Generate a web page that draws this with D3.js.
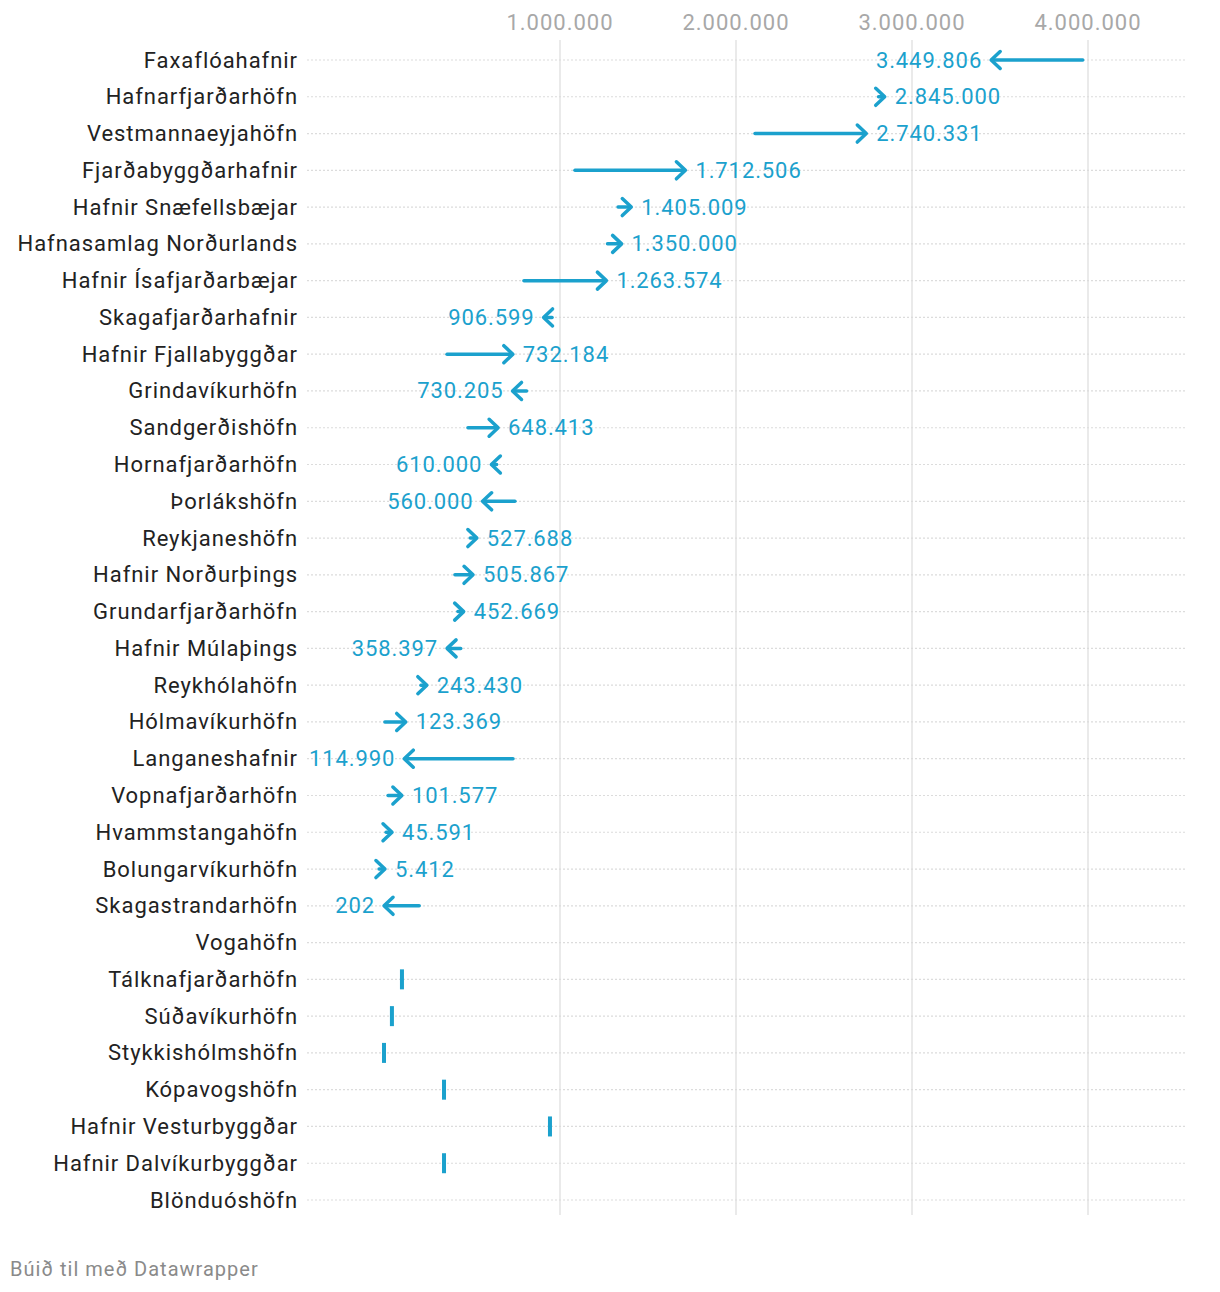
<!DOCTYPE html>
<html>
<head>
<meta charset="utf-8">
<script src="https://cdn.jsdelivr.net/npm/d3@7"></script>
<style>
  body { margin: 0; background: #fff; }
  text { font-family: Roboto, "Noto Sans", sans-serif; }
</style>
</head>
<body>
<svg id="chart" width="1220" height="1292"></svg>
<script>
const categories = ["Faxaflóahafnir","Hafnarfjarðarhöfn","Vestmannaeyjahöfn","Fjarðabyggðarhafnir","Hafnir Snæfellsbæjar","Hafnasamlag Norðurlands","Hafnir Ísafjarðarbæjar","Skagafjarðarhafnir","Hafnir Fjallabyggðar","Grindavíkurhöfn","Sandgerðishöfn","Hornafjarðarhöfn","Þorlákshöfn","Reykjaneshöfn","Hafnir Norðurþings","Grundarfjarðarhöfn","Hafnir Múlaþings","Reykhólahöfn","Hólmavíkurhöfn","Langaneshafnir","Vopnafjarðarhöfn","Hvammstangahöfn","Bolungarvíkurhöfn","Skagastrandarhöfn","Vogahöfn","Tálknafjarðarhöfn","Súðavíkurhöfn","Stykkishólmshöfn","Kópavogshöfn","Hafnir Vesturbyggðar","Hafnir Dalvíkurbyggðar","Blönduóshöfn"];
const startValues = [3970000,2810000,2108000,1085000,1330000,1270000,795000,955000,358000,810000,477000,640000,744000,490000,403000,420000,436000,210000,5000,733000,23000,12000,-28000,200000,null,102000,45000,0,341000,943000,341000,null];
const endValues   = [3449806,2845000,2740331,1712506,1405009,1350000,1263574,906599,732184,730205,648413,610000,560000,527688,505867,452669,358397,243430,123369,114990,101577,45591,5412,202,null,102000,45000,0,341000,943000,341000,null];
const tickValues = [1000000,2000000,3000000,4000000];

const blue = "#1ba1cd";
const svg = d3.select("#chart");
const fmt = d3.formatLocale({decimal: ",", thousands: ".", grouping: [3], currency: ["", ""]}).format(",d");

const x = d3.scaleLinear().domain([0, 4000000]).range([384, 1088]);
const y = d3.scalePoint().domain(categories).range([60, 1200]);

const rowX0 = 307, rowX1 = 1186;

// vertical gridlines
svg.append("g").selectAll("line").data(tickValues).join("line")
  .attr("x1", d => x(d)).attr("x2", d => x(d))
  .attr("y1", 40).attr("y2", 1215)
  .attr("stroke", "#e3e3e3").attr("stroke-width", 1.5);

// tick labels
svg.append("g").selectAll("text").data(tickValues).join("text")
  .attr("x", d => x(d)).attr("y", 22)
  .attr("text-anchor", "middle").attr("dominant-baseline", "central")
  .attr("font-size", 22).attr("letter-spacing", "1px").attr("fill", "#a8a8a8")
  .text(d => fmt(d));

// row dotted lines
svg.append("g").selectAll("line").data(categories).join("line")
  .attr("x1", rowX0).attr("x2", rowX1)
  .attr("y1", d => y(d)).attr("y2", d => y(d))
  .attr("stroke", "#dcdcdc").attr("stroke-width", 1.2)
  .attr("stroke-dasharray", "2,2");

// row labels
svg.append("g").selectAll("text").data(categories).join("text")
  .attr("x", 298).attr("y", d => y(d))
  .attr("text-anchor", "end").attr("dominant-baseline", "central")
  .attr("font-size", 22).attr("letter-spacing", "0.95px").attr("fill", "#222")
  .text(d => d);

const rows = categories.map((c, i) => ({c, s: startValues[i], e: endValues[i]}))
  .filter(d => d.s !== null && d.e !== null);

const g = svg.append("g");
rows.forEach(d => {
  const yy = y(d.c);
  const xs = x(d.s), xe = x(d.e);
  if (d.s === d.e) {
    g.append("rect").attr("x", xe - 2).attr("y", yy - 10).attr("width", 4).attr("height", 20).attr("fill", blue);
    return;
  }
  const dir = xe > xs ? 1 : -1;
  g.append("line")
    .attr("x1", xs).attr("x2", xe - dir * 1.5)
    .attr("y1", yy).attr("y2", yy)
    .attr("stroke", blue).attr("stroke-width", 3.5).attr("stroke-linecap", "round");
  g.append("polyline")
    .attr("points", [[xe - dir * 9, yy - 8.5], [xe, yy], [xe - dir * 9, yy + 8.5]].map(p => p.join(",")).join(" "))
    .attr("fill", "none").attr("stroke", blue).attr("stroke-width", 3.5)
    .attr("stroke-linecap", "round").attr("stroke-linejoin", "round");
  g.append("text")
    .attr("x", dir > 0 ? xe + 10 : xe - 9).attr("y", yy)
    .attr("text-anchor", dir > 0 ? "start" : "end").attr("dominant-baseline", "central")
    .attr("font-size", 22).attr("letter-spacing", "0.9px").attr("fill", blue)
    .text(fmt(d.e));
});

svg.append("text").attr("x", 10).attr("y", 1269)
  .attr("dominant-baseline", "central")
  .attr("font-size", 20).attr("letter-spacing", "1px").attr("fill", "#8a8a8a")
  .text("Búið til með Datawrapper");
</script>
</body>
</html>
